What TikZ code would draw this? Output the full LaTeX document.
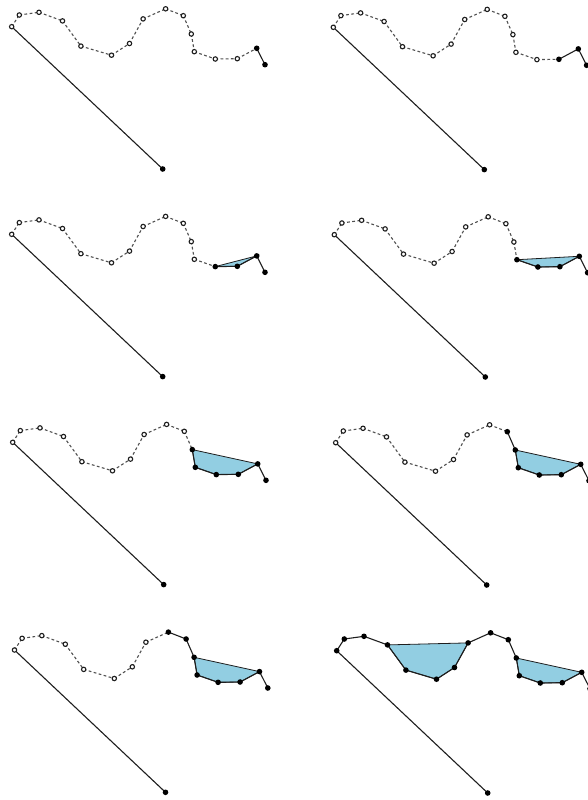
\documentclass[tikz,border=0pt]{standalone}
\usetikzlibrary{calc}
\definecolor{hullblue}{RGB}{146,206,226}
\definecolor{ink}{RGB}{30,30,30}
\definecolor{dashink}{RGB}{80,80,80}
\tikzset{
  seg/.style={draw=ink,line width=1.1pt},
  dseg/.style={draw=dashink,line width=1.1pt,dash pattern=on 2.8pt off 2.4pt},
  opendot/.style={draw=ink,fill=white,line width=1.1pt},
  fulldot/.style={fill=black},
  hull/.style={fill=hullblue,draw=ink,line width=0.8pt},
}
\newcommand\mypanel[3]{%
  \begin{scope}[shift={(#2,#3)}]
    \coordinate (#1-0) at (0,0);
    \coordinate (#1-1) at (7.6,-11.7);
    \coordinate (#1-2) at (27.3,-14.4);
    \coordinate (#1-3) at (50.8,-5.8);
    \coordinate (#1-4) at (69.2,19.4);
    \coordinate (#1-5) at (99.8,28.5);
    \coordinate (#1-6) at (117.8,16.8);
    \coordinate (#1-7) at (131.4,-7.8);
    \coordinate (#1-8) at (153.9,-17.9);
    \coordinate (#1-9) at (171.6,-11);
    \coordinate (#1-10) at (179.6,7.3);
    \coordinate (#1-11) at (182.6,25);
    \coordinate (#1-12) at (203.6,32.3);
    \coordinate (#1-13) at (225.6,32);
    \coordinate (#1-14) at (245,21.6);
    \coordinate (#1-15) at (253.3,38);
    \coordinate (#1-e) at (151,142.3);
  \end{scope}
}
\newcommand\mychain[2]{%
  \foreach \i [evaluate=\i as \j using int(\i+1)] in {0,...,14}{%
    \ifnum\i<#2\relax
      \draw[dseg] (#1-\i) -- (#1-\j);
    \else
      \draw[seg] (#1-\i) -- (#1-\j);
    \fi}
  \draw[seg] (#1-0) -- (#1-e);
  \foreach \i in {0,...,15}{%
    \ifnum\i<#2\relax
      \draw[opendot] (#1-\i) circle (2.2pt);
    \else
      \fill[fulldot] (#1-\i) circle (2.8pt);
    \fi}
  \fill[fulldot] (#1-e) circle (2.8pt);
}
\begin{document}
\begin{tikzpicture}[x=1pt,y=-1pt]
\path[use as bounding box] (0,0) rectangle (588,800);
\mypanel{pa}{11.7}{26.7}
\mypanel{pb}{333.3}{27.3}
\mypanel{pc}{11.7}{234.3}
\mypanel{pd}{334.3}{234.7}
\mypanel{pe}{12.7}{442.3}
\mypanel{pf}{335.7}{442.7}
\mypanel{pg}{14.5}{650}
\mypanel{ph}{336.7}{650.7}
% hulls
\filldraw[hull] (pc-12) -- (pc-13) -- (pc-14) -- cycle;
\filldraw[hull] (pd-11) -- (pd-12) -- (pd-13) -- (pd-14) -- cycle;
\filldraw[hull] (pe-10) -- (pe-11) -- (pe-12) -- (pe-13) -- (pe-14) -- cycle;
\filldraw[hull] (pf-10) -- (pf-11) -- (pf-12) -- (pf-13) -- (pf-14) -- cycle;
\filldraw[hull] (pg-10) -- (pg-11) -- (pg-12) -- (pg-13) -- (pg-14) -- cycle;
\filldraw[hull] (ph-10) -- (ph-11) -- (ph-12) -- (ph-13) -- (ph-14) -- cycle;
\filldraw[hull] (ph-3) -- (ph-4) -- (ph-5) -- (ph-6) -- (ph-7) -- cycle;
% chains
\mychain{pa}{14}
\mychain{pb}{13}
\mychain{pc}{12}
\mychain{pd}{11}
\mychain{pe}{10}
\mychain{pf}{9}
\mychain{pg}{8}
\mychain{ph}{0}
\end{tikzpicture}
\end{document}
